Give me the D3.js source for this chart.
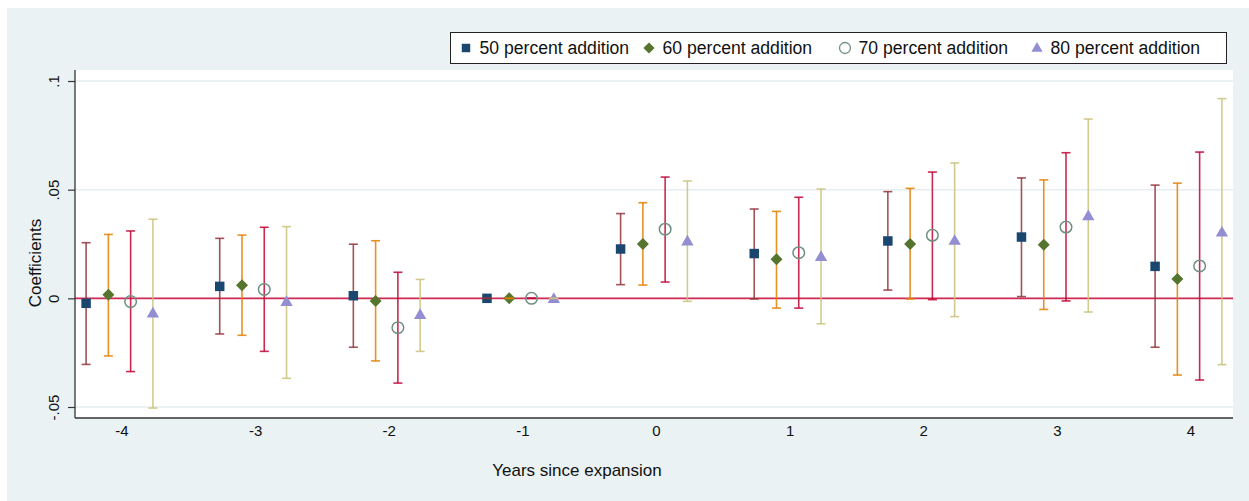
<!DOCTYPE html>
<html>
<head>
<meta charset="utf-8">
<script src="https://cdn.jsdelivr.net/npm/d3@7/dist/d3.min.js"></script>
<style>
  html, body { margin: 0; padding: 0; background: #ffffff; }
  svg { display: block; font-family: "Liberation Sans", Arial, sans-serif; }
</style>
</head>
<body>
<svg id="chart" width="1249" height="501"></svg>
<script>
// Event-study coefficients by years since expansion, four addition thresholds
const years = [-4, -3, -2, -1, 0, 1, 2, 3, 4];
const xTickLabels = ["-4", "-3", "-2", "-1", "0", "1", "2", "3", "4"];
const seriesNames = ["50 percent addition", "60 percent addition", "70 percent addition", "80 percent addition"];

const coef50 = [-0.0023, 0.0055, 0.0012, 0, 0.0227, 0.0206, 0.0264, 0.0282, 0.0147];
const lo50   = [-0.0304, -0.0164, -0.0225, 0, 0.0063, -0.0003, 0.0038, 0.0008, -0.0225];
const hi50   = [0.0256, 0.0276, 0.0249, 0, 0.0390, 0.0411, 0.0491, 0.0554, 0.0521];

const coef60 = [0.0016, 0.0060, -0.0012, 0, 0.0250, 0.0180, 0.0250, 0.0247, 0.0089];
const lo60   = [-0.0265, -0.0170, -0.0288, 0, 0.0061, -0.0045, -0.0003, -0.0051, -0.0353];
const hi60   = [0.0294, 0.0291, 0.0265, 0, 0.0440, 0.0400, 0.0506, 0.0545, 0.0530];

const coef70 = [-0.0015, 0.0041, -0.0135, 0, 0.0318, 0.0210, 0.0290, 0.0328, 0.0149];
const lo70   = [-0.0337, -0.0244, -0.0390, 0, 0.0075, -0.0045, -0.0006, -0.0012, -0.0376];
const hi70   = [0.0310, 0.0327, 0.0120, 0, 0.0558, 0.0465, 0.0581, 0.0670, 0.0673];

const coef80 = [-0.0067, -0.0014, -0.0074, 0, 0.0264, 0.0193, 0.0267, 0.0380, 0.0305];
const lo80   = [-0.0505, -0.0368, -0.0244, 0, -0.0014, -0.0117, -0.0084, -0.0063, -0.0305];
const hi80   = [0.0364, 0.0330, 0.0087, 0, 0.0540, 0.0503, 0.0623, 0.0825, 0.0919];

const yTicks = [-0.05, 0, 0.05, 0.1];
const yTickLabels = ["-.05", "0", ".05", ".1"];

// Styling per series
const styles = [
  { shape: "square",   fill: "#1a476f", stroke: "#1a476f", ci: "#90353b", offset: -0.25 },
  { shape: "diamond",  fill: "#55752f", stroke: "#55752f", ci: "#e37e00", offset: -0.0833 },
  { shape: "circle",   fill: "none",    stroke: "#6e8e84", ci: "#c10534", offset: 0.0833 },
  { shape: "triangle", fill: "#938dd2", stroke: "#938dd2", ci: "#cac27e", offset: 0.25 }
];

const series = [
  { coef: coef50, lo: lo50, hi: hi50 },
  { coef: coef60, lo: lo60, hi: hi60 },
  { coef: coef70, lo: lo70, hi: hi70 },
  { coef: coef80, lo: lo80, hi: hi80 }
].map((s, i) => ({ ...s, name: seriesNames[i], style: styles[i] }));

const svg = d3.select("#chart");
const W = 1249, H = 501;

// Graph region background
svg.append("rect").attr("x", 7).attr("y", 8).attr("width", W - 7).attr("height", H - 8)
  .attr("fill", "#eaf2f3");

const plot = { left: 75, right: 1233, top: 70, bottom: 418 };
svg.append("rect").attr("x", plot.left).attr("y", plot.top)
  .attr("width", plot.right - plot.left).attr("height", plot.bottom - plot.top)
  .attr("fill", "#ffffff");

const x = d3.scaleLinear().domain([-4.333, 4.333]).range([plot.left, plot.right]);
const y = d3.scaleLinear().domain([-0.05, 0.1]).range([407, 81]);

// Horizontal grid lines
svg.append("g").selectAll("line").data(yTicks).join("line")
  .attr("x1", plot.left).attr("x2", plot.right)
  .attr("y1", d => y(d)).attr("y2", d => y(d))
  .attr("stroke", "#e6eef1").attr("stroke-width", 1.5);

// Reference line at zero
svg.append("line")
  .attr("x1", plot.left).attr("x2", plot.right)
  .attr("y1", y(0)).attr("y2", y(0))
  .attr("stroke", "#d12a55").attr("stroke-width", 1.6);

// Y axis
const yAxis = d3.axisLeft(y).tickValues(yTicks)
  .tickFormat((d, i) => yTickLabels[i]).tickSize(7).tickPadding(0);
const gy = svg.append("g").attr("transform", `translate(${plot.left},0)`).call(yAxis);
gy.select(".domain").remove();
gy.selectAll(".tick line").attr("stroke", "#333").attr("stroke-width", 1.2);
gy.selectAll(".tick text")
  .attr("x", 0).attr("y", 0).attr("dy", 0)
  .attr("transform", "translate(-16,0) rotate(-90)")
  .attr("text-anchor", "middle")
  .attr("font-size", 15).attr("fill", "#111")
  .attr("font-family", "'Liberation Sans', Arial, sans-serif");

// X axis labels (no tick marks)
const xAxis = d3.axisBottom(x).tickValues(years)
  .tickFormat((d, i) => xTickLabels[i]).tickSize(0).tickPadding(0);
const gx = svg.append("g").attr("transform", `translate(2,${plot.bottom})`).call(xAxis);
gx.select(".domain").remove();
gx.selectAll(".tick text")
  .attr("y", 18).attr("dy", 0)
  .attr("font-size", 15).attr("fill", "#111")
  .attr("font-family", "'Liberation Sans', Arial, sans-serif");

// Axis lines
svg.append("line").attr("x1", plot.left).attr("x2", plot.left)
  .attr("y1", plot.top).attr("y2", plot.bottom)
  .attr("stroke", "#333").attr("stroke-width", 1.3);
svg.append("line").attr("x1", plot.left).attr("x2", plot.right)
  .attr("y1", plot.bottom).attr("y2", plot.bottom)
  .attr("stroke", "#333").attr("stroke-width", 1.3);

// Axis titles
svg.append("text").attr("x", 577).attr("y", 476).attr("text-anchor", "middle")
  .attr("font-size", 17).attr("fill", "#111").text("Years since expansion");
svg.append("text").attr("transform", "translate(41,263) rotate(-90)").attr("text-anchor", "middle")
  .attr("font-size", 17).attr("fill", "#111").text("Coefficients");

// Marker shapes
const symbolFor = {
  square: d3.symbol().type(d3.symbolSquare).size(90),
  diamond: d3.symbol().type(d3.symbolDiamond2).size(92),
  circle: d3.symbol().type(d3.symbolCircle).size(105),
  triangle: d3.symbol().type(d3.symbolTriangle).size(66)
};

const pts = series.flatMap((s, si) => years.map((yr, i) => ({
  si, style: s.style, xv: yr + s.style.offset, c: s.coef[i], lo: s.lo[i], hi: s.hi[i]
})));

// Confidence interval stems
svg.append("g").selectAll("line").data(pts).join("line")
  .attr("x1", d => x(d.xv)).attr("x2", d => x(d.xv))
  .attr("y1", d => y(d.lo)).attr("y2", d => y(d.hi))
  .attr("stroke", d => d.style.ci).attr("stroke-width", 1.6).attr("stroke-opacity", 0.85);

// Point estimates
svg.append("g").selectAll("path").data(pts).join("path")
  .attr("transform", d => {
    const dy = d.style.shape === "triangle" ? 1 : 0;
    return `translate(${x(d.xv)},${y(d.c) + dy})`;
  })
  .attr("d", d => symbolFor[d.style.shape]())
  .attr("fill", d => d.style.fill)
  .attr("stroke", d => d.style.stroke)
  .attr("stroke-width", d => d.style.shape === "circle" ? 1.5 : 0);

// Caps at the interval ends
const caps = pts.flatMap(d => [{ ...d, v: d.lo }, { ...d, v: d.hi }]);
svg.append("g").selectAll("line").data(caps).join("line")
  .attr("x1", d => x(d.xv) - 4.5).attr("x2", d => x(d.xv) + 4.5)
  .attr("y1", d => y(d.v)).attr("y2", d => y(d.v))
  .attr("stroke", d => d.style.ci).attr("stroke-width", 1.6).attr("stroke-opacity", 0.85);

// Legend
const legend = svg.append("g");
legend.append("rect").attr("x", 450.5).attr("y", 32.5).attr("width", 776).attr("height", 31)
  .attr("fill", "#ffffff").attr("stroke", "#222").attr("stroke-width", 1);
const legendX = [466, 649, 845, 1037];
const legendSymbol = {
  square: d3.symbol().type(d3.symbolSquare).size(72),
  diamond: d3.symbol().type(d3.symbolDiamond2).size(80),
  circle: d3.symbol().type(d3.symbolCircle).size(95),
  triangle: d3.symbol().type(d3.symbolTriangle).size(55)
};
series.forEach((s, i) => {
  const g = legend.append("g").attr("transform", `translate(${legendX[i]},48)`);
  g.append("path")
    .attr("d", legendSymbol[s.style.shape]())
    .attr("transform", s.style.shape === "triangle" ? "translate(0,0.5)" : null)
    .attr("fill", s.style.fill).attr("stroke", s.style.stroke)
    .attr("stroke-width", s.style.shape === "circle" ? 1.3 : 0);
  g.append("text").attr("x", 13.5).attr("y", 6.3).attr("font-size", 17.6).attr("fill", "#111")
    .text(s.name);
});
</script>
</body>
</html>
